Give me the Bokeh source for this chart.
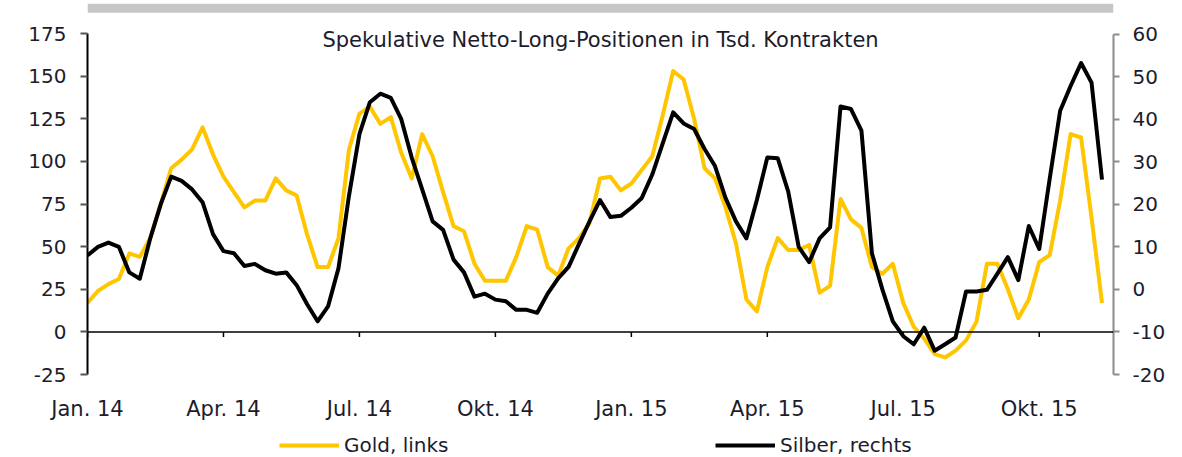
import pandas as pd
from bokeh.plotting import figure
from bokeh.models import (Range1d, LinearAxis, FixedTicker, Legend, LegendItem,
                          Label, Span, BoxAnnotation)
from bokeh.layouts import column
from bokeh.embed import file_html
from bokeh.resources import INLINE

# ---------------- data ----------------
weeks = pd.date_range("2014-01-07", periods=98, freq="7D")

gold = [17, 24, 28, 31, 46, 44, 55, 75, 96, 101,
        107, 120, 104, 91, 82, 73, 77, 77, 90, 83,
        80, 57, 38, 38, 55, 107, 128, 132, 122, 126,
        105, 90, 116, 103, 82, 62, 59, 40, 30, 30,
        30, 44, 62, 60, 38, 33, 49, 55, 64, 90,
        91, 83, 87, 95, 103, 127, 153, 148, 125, 96,
        90, 73, 52, 19, 12, 38, 55, 48, 48, 51,
        23, 27, 78, 66, 61, 38, 34, 40, 17, 3,
        -4, -13, -15, -11, -5, 6, 40, 40, 25, 8,
        19, 41, 45, 77, 116, 114, 67, 17]

silver = [8, 10, 11, 10, 4, 2.5, 12, 20, 26.5, 25.5,
          23.5, 20.5, 13, 9, 8.5, 5.5, 6, 4.5, 3.7, 4,
          1, -3.5, -7.5, -4, 5, 22, 36.5, 44, 46, 45,
          40, 31, 23.5, 16, 14, 7, 4, -1.7, -1, -2.4,
          -2.8, -4.8, -4.8, -5.5, -1, 2.6, 5.3, 10.7, 16, 21,
          17, 17.3, 19.2, 21.5, 27, 34.3, 41.6, 39, 37.7, 33,
          29, 21.5, 16, 12, 21, 31, 30.8, 23, 10, 6.4,
          12, 14.6, 43, 42.4, 37.3, 8.5, 0, -7.5, -11, -12.9,
          -9, -14.4, -12.9, -11.3, -0.5, -0.5, -0.1, 3.7, 7.6, 2.2,
          14.9, 9.5, 26, 42, 47.8, 53.2, 48.6, 25.8]

tick_dates = ["2014-01-07", "2014-04-08", "2014-07-08", "2014-10-07",
              "2015-01-06", "2015-04-07", "2015-07-07", "2015-10-06"]
tick_labels = ["Jan. 14", "Apr. 14", "Jul. 14", "Okt. 14",
               "Jan. 15", "Apr. 15", "Jul. 15", "Okt. 15"]
left_ticks = [-25, 0, 25, 50, 75, 100, 125, 150, 175]
right_ticks = [-20, -10, 0, 10, 20, 30, 40, 50, 60]

title_text = "Spekulative Netto-Long-Positionen in Tsd. Kontrakten"
gold_label = "Gold, links"
silver_label = "Silber, rechts"

# ---------------- styling ----------------
FONT = "DejaVu Sans"
TXT = "#1c1c2c"
GOLD = "#FFC600"

x = [d.value // 10**6 for d in weeks]
tick_ms = [pd.Timestamp(d).value // 10**6 for d in tick_dates]
week_ms = 7 * 24 * 3600 * 1000
x_start = x[0]
x_end = x[0] + int(98.1 * week_ms)

# main chart: frame runs from the grey band at the top down to -25
p = figure(width=1182, height=423, output_backend="svg", toolbar_location=None,
           x_axis_type=None, y_axis_type=None,
           x_range=Range1d(x_start, x_end), y_range=Range1d(-25, 192.6),
           min_border_left=87, min_border_right=69, min_border_top=3,
           min_border_bottom=44)
p.outline_line_color = None
p.xgrid.visible = False
p.ygrid.visible = False

p.extra_y_ranges = {"silver": Range1d(-20, 67.2)}

# grey band at the top
p.add_layout(BoxAnnotation(bottom=187.2, fill_color="#c6c6c6", fill_alpha=1,
                           line_color=None))

# left axis
yl = LinearAxis(ticker=FixedTicker(ticks=left_ticks), bounds=(-25, 175))
yl.axis_line_color = "black"
yl.axis_line_width = 2
yl.major_tick_line_color = "#555555"
yl.major_tick_line_width = 2
yl.major_tick_out = 7
yl.major_tick_in = 0
yl.minor_tick_line_color = None
yl.major_label_overrides = {-25: "-25"}
yl.major_label_text_font = FONT
yl.major_label_text_font_size = "20px"
yl.major_label_text_color = TXT
yl.major_label_standoff = 14
p.add_layout(yl, "left")

# right axis
yr = LinearAxis(y_range_name="silver", ticker=FixedTicker(ticks=right_ticks),
                bounds=(-20, 60))
yr.axis_line_color = "#8c8c8c"
yr.axis_line_width = 2
yr.major_tick_line_color = "#8c8c8c"
yr.major_tick_line_width = 2
yr.major_tick_out = 6
yr.major_tick_in = 0
yr.minor_tick_line_color = None
yr.major_label_overrides = {-10: "-10", -20: "-20"}
yr.major_label_text_font = FONT
yr.major_label_text_font_size = "20px"
yr.major_label_text_color = TXT
yr.major_label_standoff = 13
p.add_layout(yr, "right")

# quarter labels below
xl = LinearAxis(ticker=FixedTicker(ticks=tick_ms))
xl.axis_line_color = None
xl.major_tick_line_color = None
xl.minor_tick_line_color = None
xl.major_label_overrides = {t: l for t, l in zip(tick_ms, tick_labels)}
xl.major_label_text_font = FONT
xl.major_label_text_font_size = "21px"
xl.major_label_text_color = TXT
xl.major_label_standoff = 16
p.add_layout(xl, "below")

# zero line with quarter ticks
p.add_layout(Span(location=0, dimension="width", line_color="black",
                  line_width=1.5))
p.segment(x0=tick_ms, y0=[0] * len(tick_ms), x1=tick_ms,
          y1=[-3] * len(tick_ms), line_color="black", line_width=1.5)

# series
p.line(x, gold, line_color=GOLD, line_width=4, line_join="round")
p.line(x, silver, y_range_name="silver", line_color="black",
       line_width=4, line_join="round")

# title inside plot
mid = x_start + (x_end - x_start) / 2
p.add_layout(Label(x=mid, y=171, text=title_text, text_align="center",
                   text_baseline="middle", text_font=FONT,
                   text_font_size="21px", text_color=TXT))

# legend row (own strip below the chart; its frame aligns with the chart's)
lf = figure(width=1182, height=34, output_backend="svg", toolbar_location=None,
            x_axis_type=None, y_axis_type=None,
            x_range=Range1d(0, 1), y_range=Range1d(0, 1),
            min_border_left=0, min_border_right=0, min_border_top=0,
            min_border_bottom=0)
lf.outline_line_color = None
lf.xgrid.visible = False
lf.ygrid.visible = False
# same series drawn off-view here, only to feed the legend swatches
lg_gold = lf.line(x, gold, line_color=GOLD, line_width=4)
lg_silver = lf.line(x, silver, line_color="black", line_width=4)

legend = Legend(items=[LegendItem(label=gold_label, renderers=[lg_gold]),
                       LegendItem(label=silver_label, renderers=[lg_silver])],
                orientation="horizontal", location=(192, 0))
legend.label_text_font = FONT
legend.label_text_font_size = "20px"
legend.label_text_color = TXT
legend.glyph_width = 60
legend.glyph_height = 18
legend.label_standoff = 5
legend.label_width = 365
legend.spacing = 6
legend.padding = 0
legend.margin = 0
legend.border_line_color = None
legend.background_fill_alpha = 0
lf.add_layout(legend)

open("out.html", "w").write(file_html(column(p, lf, spacing=0), INLINE))
